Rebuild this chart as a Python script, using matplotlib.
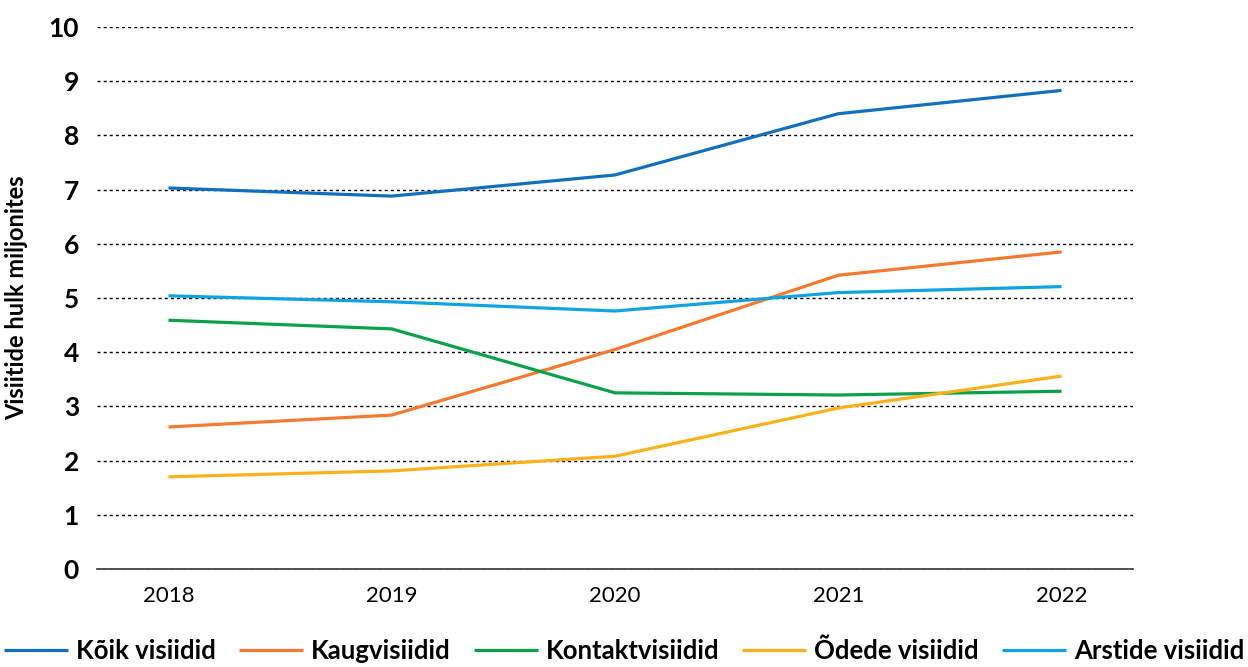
import matplotlib
matplotlib.use("Agg")
import matplotlib.pyplot as plt

years = ["2018", "2019", "2020", "2021", "2022"]
koik = [7.03, 6.88, 7.27, 8.40, 8.83]
kaug = [2.62, 2.84, 4.05, 5.42, 5.85]
kontakt = [4.59, 4.43, 3.25, 3.21, 3.28]
odede = [1.70, 1.81, 2.08, 2.97, 3.56]
arstide = [5.04, 4.93, 4.76, 5.10, 5.21]

series = [
    ("Kõik visiidid", koik, "#1170BE"),
    ("Kaugvisiidid", kaug, "#F47A30"),
    ("Kontaktvisiidid", kontakt, "#0BA14B"),
    ("Õdede visiidid", odede, "#FBB11C"),
    ("Arstide visiidid", arstide, "#10A3E0"),
]

plt.rcParams["font.family"] = ["Lato", "DejaVu Sans"]

fig = plt.figure(figsize=(12.48, 6.67), dpi=100)
ax = fig.add_axes([97 / 1248, 1 - 569 / 667, 1036 / 1248, 542 / 667])

x = list(range(len(years)))
for name, vals, col in series:
    ax.plot(x, vals, color=col, lw=2.3, label=name, solid_capstyle="butt")

ax.set_xlim(-0.32, 4.32)
ax.set_ylim(0, 10)
ax.set_yticks(range(0, 11))
ax.set_xticks(x)
ax.set_xticklabels(years, fontsize=16)
ax.tick_params(axis="y", labelsize=19, length=0, pad=13)
ax.tick_params(axis="x", length=0, pad=12)
for lab in ax.get_yticklabels():
    lab.set_fontweight("bold")

ax.grid(axis="y", color="black", linestyle=(0, (2.2, 2.2)), lw=1.0)
ax.set_axisbelow(True)
for s in ["top", "right", "left"]:
    ax.spines[s].set_visible(False)
ax.spines["bottom"].set_color("#333333")
ax.spines["bottom"].set_linewidth(1.2)

ax.set_ylabel("Visiitide hulk miljonites", fontsize=17, fontweight="bold")
ax.yaxis.set_label_coords(-0.066, 0.5)

fig.legend(loc="lower center", bbox_to_anchor=(0.5, 0.0), ncol=5, frameon=False,
           prop={"size": 18.5, "weight": "bold"}, handlelength=2.5, handletextpad=0.3,
           columnspacing=0.9, borderaxespad=0.0, borderpad=0.15)

fig.savefig("out.png", dpi=100)
